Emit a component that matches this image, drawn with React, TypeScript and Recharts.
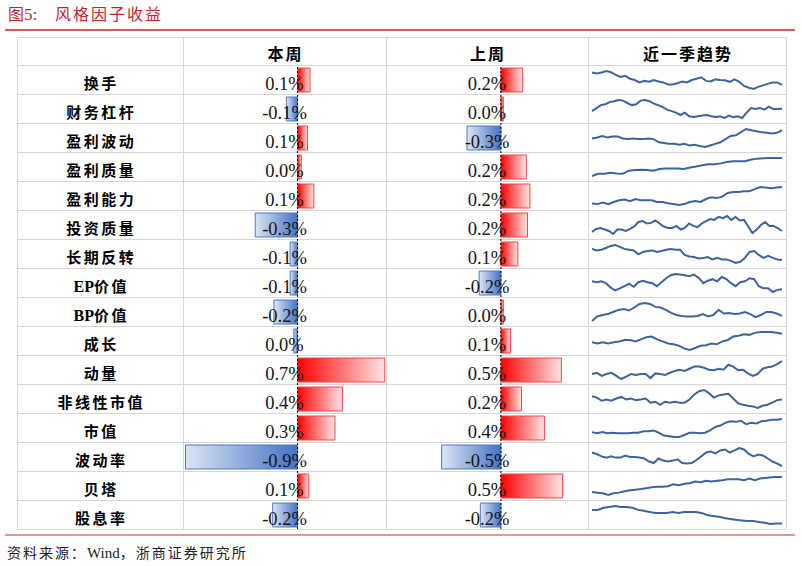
import React from 'react';
import { BarChart, Bar, XAxis, YAxis, Cell, LabelList, ReferenceLine, LineChart, Line } from 'recharts';

const factors = ['换手', '财务杠杆', '盈利波动', '盈利质量', '盈利能力', '投资质量', '长期反转', 'EP价值', 'BP价值', '成长', '动量', '非线性市值', '市值', '波动率', '贝塔', '股息率'];
const headers = ['本周', '上周', '近一季趋势'];

// weekly factor returns, %
const thisWeek = [0.1, -0.09, 0.08, 0.03, 0.13, -0.34, -0.06, -0.06, -0.19, -0.03, 0.7, 0.36, 0.3, -0.9, 0.09, -0.2];
const lastWeek = [0.18, 0.02, -0.28, 0.21, 0.24, 0.22, 0.14, -0.18, 0.02, 0.08, 0.5, 0.17, 0.36, -0.49, 0.51, -0.17];

// quarter trend (relative cumulative level)
const trendTurnover = [73, 70, 73, 78, 74, 65, 58, 62, 52, 48, 40, 45, 42, 48, 43, 40, 33, 33, 37, 43, 40, 48, 52, 57, 45, 43, 50, 48, 47, 42, 50, 42, 28, 22, 18, 25, 30, 35, 40, 40, 32];
const trendLeverage = [55, 65, 75, 78, 85, 88, 92, 90, 82, 75, 78, 90, 92, 88, 80, 75, 68, 60, 55, 50, 42, 50, 38, 35, 38, 40, 42, 38, 35, 38, 32, 40, 35, 38, 32, 50, 65, 62, 65, 60, 70, 62, 62, 63];
const trendEarnVol = [72, 75, 80, 75, 78, 78, 72, 70, 72, 70, 70, 72, 70, 60, 58, 55, 55, 52, 55, 50, 52, 48, 45, 50, 55, 60, 70, 80, 82, 92, 102, 98, 95, 92, 90, 88, 90, 98];
const trendEarnQuality = [8, 15, 15, 18, 16, 15, 25, 27, 28, 27, 25, 30, 32, 32, 32, 30, 35, 38, 42, 45, 45, 48, 52, 55, 55, 55, 60, 63, 64, 65, 65, 65];
const trendProfit = [17, 15, 20, 15, 22, 28, 30, 25, 32, 28, 28, 28, 22, 22, 18, 15, 12, 15, 22, 25, 22, 32, 38, 35, 40, 52, 55, 55, 58, 58, 65, 72, 70, 68, 70, 72];
const trendInvest = [22, 32, 35, 30, 25, 15, 30, 30, 25, 32, 40, 55, 58, 50, 52, 60, 50, 40, 35, 35, 42, 30, 35, 50, 42, 38, 50, 58, 65, 62, 72, 68, 75, 62, 72, 60, 62, 40, 18, 30, 45, 55, 42, 42, 35, 25];
const trendReversal = [55, 50, 52, 58, 65, 68, 62, 55, 52, 50, 37, 45, 48, 50, 45, 48, 52, 55, 52, 52, 35, 30, 28, 23, 25, 28, 20, 25, 20, 20, 15, 8, 12, 25, 45, 48, 35, 25, 32, 25, 20, 18];
const trendEP = [38, 35, 38, 32, 18, 8, 15, 22, 30, 20, 35, 40, 35, 32, 22, 35, 48, 58, 62, 60, 58, 55, 60, 50, 32, 40, 45, 38, 52, 45, 32, 22, 35, 38, 48, 45, 22, 15, 15, 3, 10, 12];
const trendBP = [15, 30, 35, 38, 45, 52, 55, 50, 60, 72, 75, 72, 62, 60, 52, 42, 35, 32, 30, 30, 32, 38, 30, 35, 52, 40, 42, 38, 40, 45, 38, 28, 35, 45, 45, 40, 32];
const trendGrowth = [32, 28, 32, 28, 32, 35, 40, 40, 35, 42, 50, 52, 42, 35, 28, 25, 20, 10, 5, 12, 20, 22, 28, 25, 35, 40, 52, 55, 60, 58, 65, 68, 68, 68, 65, 62];
const trendMomentum = [28, 32, 22, 28, 32, 22, 12, 20, 28, 25, 28, 28, 15, 30, 28, 25, 32, 38, 42, 38, 45, 52, 52, 48, 42, 40, 45, 42, 58, 52, 40, 42, 30, 22, 28, 45, 50, 52, 60, 70];
const trendNlSize = [42, 38, 28, 32, 28, 35, 40, 32, 35, 30, 32, 35, 22, 25, 15, 25, 22, 25, 22, 22, 32, 48, 58, 62, 52, 38, 45, 48, 50, 35, 20, 15, 12, 10, 5, 12, 15, 22, 30, 32];
const trendSize = [22, 18, 22, 18, 20, 18, 18, 18, 20, 20, 25, 25, 28, 20, 10, 8, 5, 5, 12, 20, 20, 18, 20, 28, 40, 45, 55, 60, 58, 62, 50, 55, 52, 60, 62, 65, 65, 68];
const trendVolatility = [55, 50, 42, 38, 42, 38, 38, 45, 40, 40, 38, 35, 25, 20, 35, 28, 25, 28, 32, 20, 18, 20, 30, 42, 55, 58, 52, 62, 65, 55, 62, 70, 65, 50, 42, 48, 45, 35, 25, 18, 10];
const trendBeta = [22, 20, 18, 12, 18, 20, 25, 28, 30, 32, 35, 38, 40, 40, 42, 48, 45, 50, 52, 58, 55, 60, 58, 60, 62, 65, 65, 65, 62, 68, 62, 68, 70, 72, 73, 73];
const trendDividend = [55, 55, 62, 65, 68, 65, 65, 62, 55, 52, 48, 45, 45, 45, 48, 45, 48, 48, 48, 45, 38, 35, 32, 28, 25, 22, 20, 18, 18, 15, 12, 8, 10, 10];

const trends = [trendTurnover, trendLeverage, trendEarnVol, trendEarnQuality, trendProfit, trendInvest, trendReversal, trendEP, trendBP, trendGrowth, trendMomentum, trendNlSize, trendSize, trendVolatility, trendBeta, trendDividend];

const rows = factors.map((name, i) => ({ name, thisWeek: thisWeek[i], lastWeek: lastWeek[i] }));

// table geometry
const LEFT = 17;
const COL1 = 183;
const COL2 = 386;
const COL3 = 588;
const RIGHT = 786;
const HEAD_TOP = 37;
const TOP = 65;
const ROW_H = 29;
const BODY_H = ROW_H * factors.length;

const GRID = '#d6d6d6';
const CJK = "'Noto Sans CJK SC', sans-serif";
const SERIF = "'Liberation Serif', serif";

const fmt = (v: number) => {
  const s = v.toFixed(1);
  return (s === '-0.0' ? '0.0' : s) + '%';
};

const pctLabel = (cx: number) => (props: any) => {
  const vb = props.viewBox || props;
  const cy = vb.y + vb.height / 2;
  return (
    <text x={cx} y={cy + 9.5} textAnchor="middle" fontFamily={SERIF} fontSize={18.5} fill="#151515">
      {fmt(Number(props.value))}
    </text>
  );
};

const rowTick = (props: any) => {
  const name: string = props.payload.value;
  const m = name.match(/^[A-Za-z]+/);
  const latin = m ? m[0] : '';
  const rest = name.slice(latin.length);
  return (
    <text
      x={(COL1 - LEFT) / 2 + 1.2}
      y={props.y + 9}
      textAnchor="middle"
      fontFamily={CJK}
      fontWeight={700}
      fontSize={15}
      letterSpacing={2.5}
      fill="#000"
    >
      {latin && (
        <tspan fontFamily={SERIF} fontSize={16} letterSpacing={0}>
          {latin}
        </tspan>
      )}
      {rest}
    </text>
  );
};

function Defs({ id }: { id: string }) {
  return (
    <defs>
      <linearGradient id={`pos${id}`} x1="0" y1="0" x2="1" y2="0">
        <stop offset="0" stopColor="#ff0000" />
        <stop offset="1" stopColor="#ffe4e4" />
      </linearGradient>
      <linearGradient id={`neg${id}`} x1="1" y1="0" x2="0" y2="0">
        <stop offset="0" stopColor="#4472c4" />
        <stop offset="1" stopColor="#dde5f4" />
      </linearGradient>
    </defs>
  );
}

function Grid() {
  const hLines = [HEAD_TOP];
  for (let k = 0; k <= factors.length; k++) hLines.push(TOP + k * ROW_H);
  const vLines = [LEFT, COL1, COL2, COL3, RIGHT];
  const centers = [(COL1 + COL2) / 2, (COL2 + COL3) / 2, (COL3 + RIGHT) / 2];
  return (
    <svg width={802} height={566} style={{ position: 'absolute', left: 0, top: 0 }}>
      <text x={8} y={19.5} fontFamily={CJK} fontSize={16} fill="#c0282d">
        图<tspan fontFamily={SERIF} fontSize={17}>5:</tspan>
      </text>
      <text x={55} y={19.5} fontFamily={CJK} fontSize={16} letterSpacing={2} fill="#c0282d">
        风格因子收益
      </text>
      <line x1={5} x2={795} y1={30} y2={30} stroke="#c0282d" strokeWidth={1.5} />
      {hLines.map((y) => (
        <line key={`h${y}`} x1={LEFT} x2={RIGHT} y1={y + 0.5} y2={y + 0.5} stroke={GRID} />
      ))}
      {vLines.map((x) => (
        <line key={`v${x}`} x1={x + 0.5} x2={x + 0.5} y1={HEAD_TOP} y2={TOP + BODY_H} stroke={GRID} />
      ))}
      {headers.map((h, i) => (
        <text
          key={h}
          x={centers[i] + 1}
          y={59.5}
          textAnchor="middle"
          fontFamily={CJK}
          fontWeight={700}
          fontSize={16}
          letterSpacing={2}
          fill="#000"
        >
          {h}
        </text>
      ))}
      <line x1={5} x2={795} y1={535} y2={535} stroke="#e07070" strokeWidth={1.5} />
      <text x={7} y={558} fontFamily={CJK} fontSize={14} letterSpacing={2} fill="#222">
        资料来源：
        <tspan fontFamily={SERIF} fontSize={15} letterSpacing={0}>Wind</tspan>
        ，浙商证券研究所
      </text>
    </svg>
  );
}

export default function App() {
  return (
    <div style={{ position: 'absolute', left: 0, top: 0, width: 802, height: 566, background: '#fff', overflow: 'hidden' }}>
      <Grid />

      {/* 本周 + row labels */}
      <div style={{ position: 'absolute', left: LEFT, top: TOP }}>
        <BarChart width={COL2 - LEFT} height={BODY_H} data={rows} layout="vertical" margin={{ top: 0, right: 0, bottom: 0, left: 0 }}>
          <Defs id="A" />
          <XAxis type="number" domain={[-0.92, 0.71]} hide allowDataOverflow />
          <YAxis type="category" dataKey="name" width={COL1 - LEFT} axisLine={false} tickLine={false} interval={0} tick={rowTick} />
          <Bar dataKey="thisWeek" barSize={24} isAnimationActive={false}>
            {rows.map((r, i) => (
              <Cell key={i} fill={r.thisWeek >= 0 ? 'url(#posA)' : 'url(#negA)'} stroke={r.thisWeek >= 0 ? '#ff4545' : '#4f79c4'} strokeWidth={1} />
            ))}
            <LabelList dataKey="thisWeek" content={pctLabel((COL1 + COL2) / 2 - LEFT)} />
          </Bar>
          <ReferenceLine x={0} stroke="#000" strokeDasharray="2 2" strokeWidth={1} />
        </BarChart>
      </div>

      {/* 上周 */}
      <div style={{ position: 'absolute', left: COL2, top: TOP }}>
        <BarChart width={COL3 - COL2} height={BODY_H} data={rows} layout="vertical" margin={{ top: 0, right: 0, bottom: 0, left: 0 }}>
          <Defs id="B" />
          <XAxis type="number" domain={[-0.95, 0.72]} hide allowDataOverflow />
          <YAxis type="category" dataKey="name" hide />
          <Bar dataKey="lastWeek" barSize={24} isAnimationActive={false}>
            {rows.map((r, i) => (
              <Cell key={i} fill={r.lastWeek >= 0 ? 'url(#posB)' : 'url(#negB)'} stroke={r.lastWeek >= 0 ? '#ff4545' : '#4f79c4'} strokeWidth={1} />
            ))}
            <LabelList dataKey="lastWeek" content={pctLabel((COL2 + COL3) / 2 - COL2)} />
          </Bar>
          <ReferenceLine x={0} stroke="#000" strokeDasharray="2 2" strokeWidth={1} />
        </BarChart>
      </div>

      {/* 近一季趋势 sparklines */}
      {trends.map((t, i) => (
        <div key={i} style={{ position: 'absolute', left: COL3, top: TOP + i * ROW_H }}>
          <LineChart width={RIGHT - COL3} height={ROW_H} data={t.map((v, k) => ({ k, v }))} margin={{ top: 6, right: 4, bottom: 5, left: 4 }}>
            <XAxis type="number" dataKey="k" domain={['dataMin', 'dataMax']} hide />
            <YAxis domain={['dataMin', 'dataMax']} hide />
            <Line type="linear" dataKey="v" stroke="#3d659c" strokeWidth={2} dot={false} isAnimationActive={false} />
          </LineChart>
        </div>
      ))}
    </div>
  );
}
